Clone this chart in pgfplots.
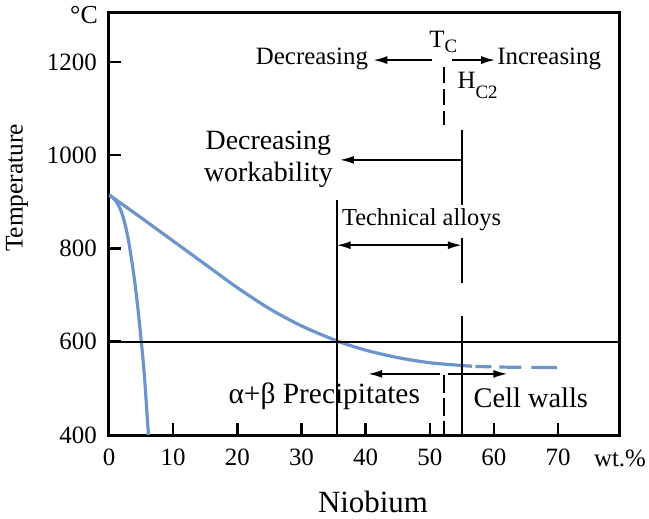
\documentclass[border=0pt]{standalone}
\usepackage{fontspec}
\setmainfont{Liberation Serif}
\usepackage{pgfplots}
\pgfplotsset{compat=1.18}
\usetikzlibrary{arrows.meta}
\definecolor{curveblue}{RGB}{107,149,203}
\begin{document}
\begin{tikzpicture}
\begin{axis}[
 scale only axis, width=510bp, height=422bp,
 xmin=0, xmax=79.5, ymin=400, ymax=1305,
 axis line style={line width=3bp},
 xtick={0,10,...,70}, ytick={400,600,...,1200},
 xtick pos=bottom, ytick pos=left, tick align=inside,
 major tick length=12bp,
 every tick/.style={line width=2.5bp, black},
 /pgf/number format/assume math mode=true,
 /pgf/number format/1000 sep={},
 ticklabel style={font=\fontsize{25}{30}\selectfont, inner sep=0pt},
 xticklabel style={anchor=north, yshift=-14bp},
 yticklabel style={anchor=east, xshift=-12bp},
]
% blue curves
\addplot[curveblue, line width=3.2bp, smooth] coordinates {
 (0,915) (0.5,910) (1,903) (1.5,892) (2,876) (2.5,852) (3,820) (3.5,778) (4,730) (4.5,672) (5,605) (5.5,530) (6.15,400)};
\addplot[curveblue, line width=3.2bp, smooth] coordinates {
 (0,915) (5,866) (10,816) (15,766) (20,716) (25,671) (30,634) (35.5,602) (40,582) (45,566) (50,555) (55,549) (56.6,547.5)};
\addplot[curveblue, line width=3.2bp, dash pattern=on 16bp off 8bp on 22bp off 10bp on 27bp off 10bp] coordinates {
 (57.1,547) (62,545.5) (66,545) (69.8,544.5)};
% reference lines
\draw[line width=1.8bp] (axis cs:0,600) -- (axis cs:79.5,600);
\draw[line width=1.8bp] (axis cs:35.5,400) -- (axis cs:35.5,904);
\draw[line width=1.8bp] (axis cs:55,1054) -- (axis cs:55,893);
\draw[line width=1.8bp] (axis cs:55,822) -- (axis cs:55,726);
\draw[line width=1.8bp] (axis cs:55,655) -- (axis cs:55,400);
\draw[line width=1.8bp, dash pattern=on 16bp off 6bp] (axis cs:52.2,1189) -- (axis cs:52.2,1065);
\draw[line width=1.8bp, dash pattern=on 18bp off 5bp] (axis cs:52.2,529) -- (axis cs:52.2,400);
% arrows
\draw[line width=1.8bp, -{Latex[length=14bp,width=8bp]}] (axis cs:50.4,1204) -- (axis cs:41.2,1204);
\draw[line width=1.8bp, -{Latex[length=14bp,width=8bp]}] (axis cs:53.5,1204) -- (axis cs:60.2,1204);
\draw[line width=1.8bp, -{Latex[length=14bp,width=8bp]}] (axis cs:55,990) -- (axis cs:36.0,990);
\draw[line width=1.8bp, {Latex[length=14bp,width=8bp]}-{Latex[length=14bp,width=8bp]}] (axis cs:35.5,807) -- (axis cs:55,807);
\draw[line width=1.8bp, -{Latex[length=14bp,width=8bp]}] (axis cs:51.6,531) -- (axis cs:40.4,531);
\draw[line width=1.8bp, -{Latex[length=14bp,width=8bp]}] (axis cs:52.9,531) -- (axis cs:62.1,531);
% texts
\node[anchor=east, inner sep=0pt, font=\fontsize{25}{30}\selectfont] at (axis cs:40.4,1206) {Decreasing};
\node[anchor=west, inner sep=0pt, font=\fontsize{25}{30}\selectfont] at (axis cs:60.5,1206) {Increasing};
\node[inner sep=0pt, font=\fontsize{25}{30}\selectfont] at (axis cs:52.1,1243) {T\raisebox{-5bp}{\fontsize{19}{19}\selectfont C}};
\node[anchor=west, inner sep=0pt, font=\fontsize{25}{30}\selectfont] at (axis cs:54.3,1150) {H\raisebox{-10bp}{\fontsize{19}{19}\selectfont C2}};
\node[anchor=east, inner sep=0pt, align=center, font=\fontsize{28}{32}\selectfont] at (axis cs:34.9,992) {Decreasing\\workability};
\node[anchor=west, inner sep=0pt, font=\fontsize{24.5}{29}\selectfont] at (axis cs:36.3,861) {Technical alloys};
\node[anchor=east, inner sep=0pt, font=\fontsize{29.5}{33}\selectfont] at (axis cs:48.5,484) {α+β Precipitates};
\node[anchor=west, inner sep=0pt, font=\fontsize{28.5}{32}\selectfont] at (axis cs:56.8,479) {Cell walls};
\end{axis}
\node[inner sep=0pt, font=\fontsize{26}{30}\selectfont] at ([shift={(-25bp,419.5bp)}]current axis.south west) {°C};
\node[inner sep=0pt, font=\fontsize{25}{30}\selectfont] at ([shift={(511bp,-23bp)}]current axis.south west) {wt.\%};
\node[inner sep=0pt, font=\fontsize{31}{35}\selectfont] at ([shift={(264bp,-67bp)}]current axis.south west) {Niobium};
\node[inner sep=0pt, rotate=90, font=\fontsize{25.5}{30}\selectfont] at ([shift={(-92bp,247bp)}]current axis.south west) {Temperature};
\pgfresetboundingbox
\path (current axis.south west) ++(-109bp,-84bp) rectangle ++(649bp,519bp);
\end{tikzpicture}
\end{document}
